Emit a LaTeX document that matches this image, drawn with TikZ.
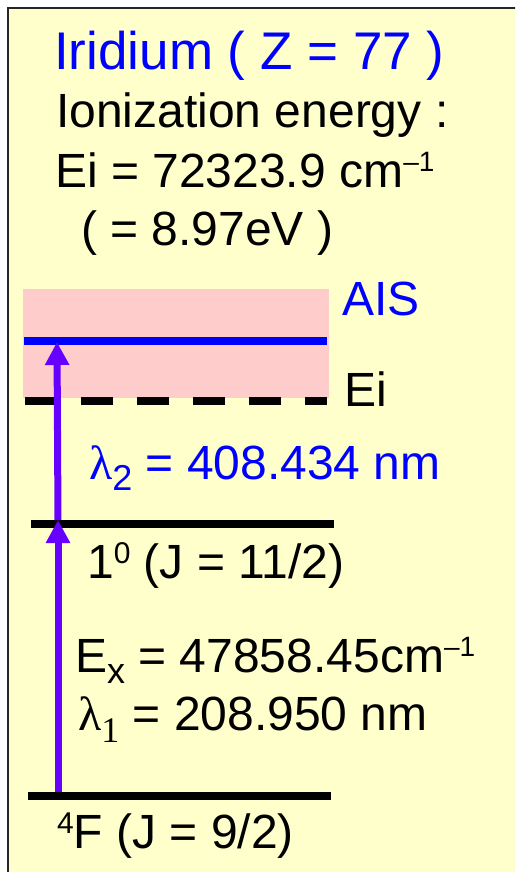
\documentclass[tikz,border=0pt]{standalone}
\usepackage{fontspec}
\setmainfont{Liberation Sans}
\newfontfamily\greekfont{Liberation Serif}
\usetikzlibrary{arrows.meta}
\definecolor{paleyellow}{HTML}{FFFFCC}
\definecolor{palepink}{HTML}{FFCCCC}
\definecolor{laserviolet}{HTML}{6600FF}
\newcommand{\supx}[3]{\raisebox{#2pt}{\fontsize{#1}{#1}\selectfont #3}}

\begin{document}
\begin{tikzpicture}[x=1pt,y=-1pt,
  txt/.style={anchor=base west,inner sep=0pt,font=\fontsize{48}{52}\selectfont},
  level/.style={line width=8pt},
  photon/.style={line width=7pt,laserviolet,-{Triangle[width=23pt,length=23pt]}}]
  \useasboundingbox (0,0) rectangle (515,872);
  \clip (0,0) rectangle (515,872);

  % Panel
  \draw[fill=paleyellow,draw=black!85,line width=2pt] (8,8) rectangle (540,900);

  % Header text
  \node[txt,font=\fontsize{53}{56}\selectfont,blue] (title) at (54,70) {Iridium ( Z = 77 )};
  \node[txt] (ionz) at (56,128) {Ionization energy :};
  \node[txt] (eival) at (55,187) {Ei = 72323.9 cm\supx{28}{16}{–1}};
  \node[txt] (eiev) at (81,245) {( = 8.97eV )};

  % Autoionizing region
  \fill[palepink] (23,289) rectangle (329,398);
  \draw[level,blue] (24,341) -- (327,341);
  \draw[level,dash pattern=on 32pt off 24pt] (25,401) -- (327,401);
  \node[txt,blue] (ais) at (342,315) {AIS};
  \node[txt] (eilab) at (344,406) {Ei};

  % Bound levels
  \draw[level] (31,524) -- (334,524);
  \draw[level] (28,796) -- (331,796);
  \coordinate (gnd) at (58,792);
  \coordinate (lvl) at (58,520);
  \coordinate (top) at (57,342);

  % Excitation steps
  \draw[photon] (gnd) -- (lvl);
  \draw[photon] (lvl) -- (top);

  % Step labels
  \node[txt,blue] (lamtwo) at (89,479) {{\greekfont λ}\supx{36}{-11}{2} = 408.434 nm};
  \node[txt] (midlab) at (87,578) {1\supx{30}{15}{0} (J = 11/2)};
  \node[txt] (exval) at (75,672) {E\supx{36}{-11}{x} = 47858.45cm\supx{28}{16}{–1}};
  \node[txt] (lamone) at (78,730) {{\greekfont λ\supx{36}{-12}{1}} = 208.950 nm};
  \node[txt] (gndlab) at (57,848) {\supx{30}{15}{4}F (J = 9/2)};
\end{tikzpicture}
\end{document}
